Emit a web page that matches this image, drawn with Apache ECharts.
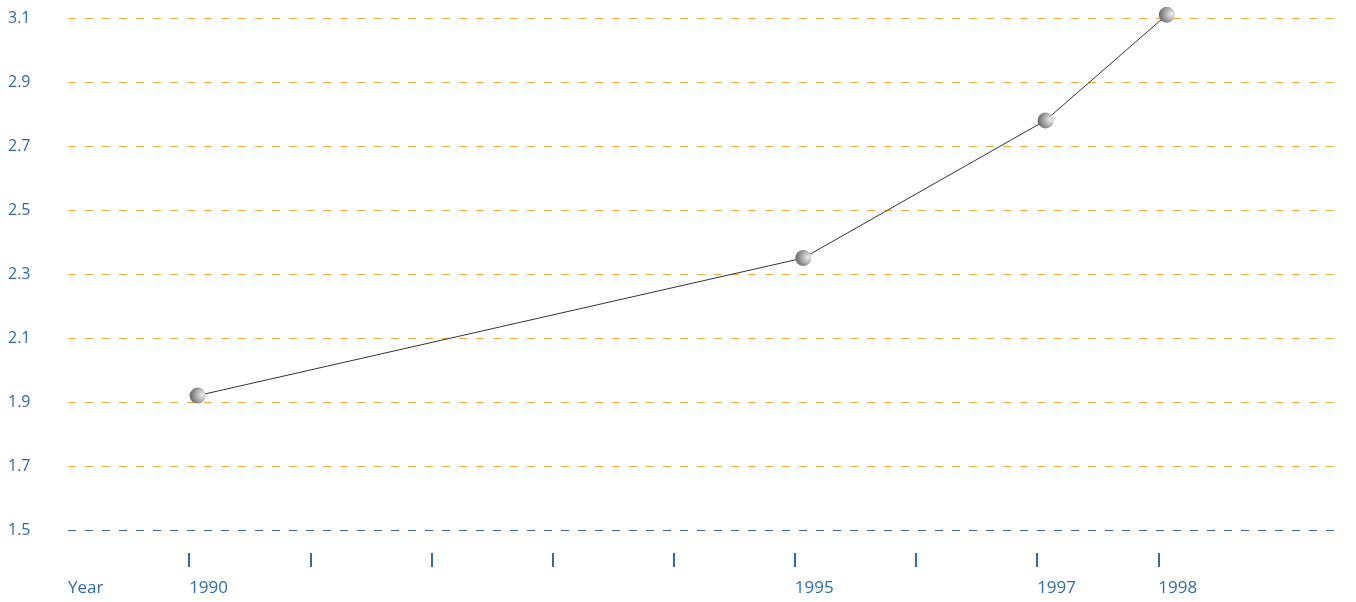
<!DOCTYPE html>
<html>
<head>
<meta charset="utf-8">
<script src="https://cdn.jsdelivr.net/npm/echarts@6/dist/echarts.min.js"></script>
<style>html,body{margin:0;padding:0;background:#fff}#c{width:1356px;height:602px}</style>
</head>
<body>
<div id="c"></div>
<script>
var years = [1990, 1995, 1997, 1998];
var values = [1.92, 2.35, 2.78, 3.11];
var tickYears = [1990, 1991, 1992, 1993, 1994, 1995, 1996, 1997, 1998];
var labelYears = [1989, 1990, 1995, 1997, 1998];
var axisName = 'Year';

var BLUE = '#2f6cab';
var ORANGE = '#f7a843';
var FONT = 'Open Sans';

// split line colours: one per 0.1 step from 1.5 to 3.1; only the 0.2 steps are drawn
var splitColors = [];
for (var i = 0; i <= 16; i++) {
  splitColors.push(i === 0 ? BLUE : (i % 2 === 0 ? ORANGE : 'rgba(0,0,0,0)'));
}

var chart = echarts.init(document.getElementById('c'));
chart.setOption({
  animation: false,
  grid: { left: 68, right: 16, top: 18, bottom: 72 },
  xAxis: [{
    type: 'value', min: 1989, max: 1999.5, position: 'bottom', offset: 23,
    axisLine: { show: false },
    splitLine: { show: false },
    axisTick: { show: true, length: 14, customValues: tickYears, lineStyle: { color: BLUE, width: 2 } },
    axisLabel: {
      customValues: labelYears, margin: 27, align: 'left', color: BLUE,
      fontFamily: FONT, fontSize: 17,
      formatter: function (v) { return v === 1989 ? axisName : String(v); }
    }
  }, {
    type: 'value', min: 1988.93, max: 1999.43, show: false
  }],
  yAxis: {
    type: 'value', min: 1.5, max: 3.1, interval: 0.1,
    axisLine: { show: false }, axisTick: { show: false },
    axisLabel: {
      margin: 60, align: 'left', color: BLUE, fontFamily: FONT, fontSize: 16,
      formatter: function (v) {
        var k = Math.round(v * 10);
        return (k % 2 === 1) ? (k / 10).toFixed(1) : '';
      }
    },
    splitLine: { show: true, showMinLine: true, lineStyle: { color: splitColors, type: [8, 9], width: 1 } }
  },
  series: [{
    type: 'line',
    xAxisIndex: 1,
    clip: false,
    data: years.map(function (y, i) { return [y, values[i]]; }),
    lineStyle: { color: '#333', width: 1 },
    symbol: 'circle', symbolSize: 16,
    itemStyle: {
      color: new echarts.graphic.RadialGradient(0.8, 0.45, 0.85, [
        { offset: 0, color: '#eeeeee' },
        { offset: 1, color: '#5e5e5e' }
      ]),
      borderWidth: 0
    }
  }]
});
</script>
</body>
</html>
